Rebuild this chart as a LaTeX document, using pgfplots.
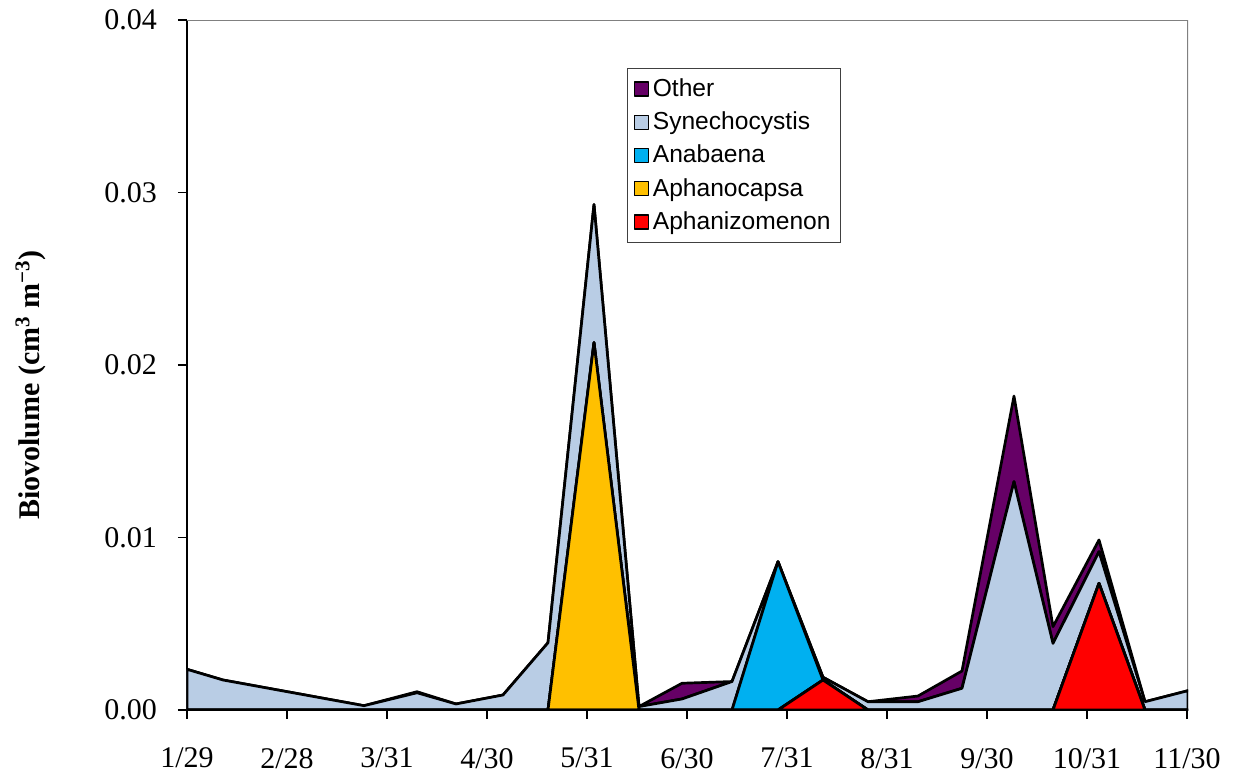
\documentclass[border=0pt]{standalone}
\usepackage{fontspec}
\setmainfont{Liberation Serif}
\setsansfont{Liberation Sans}
\usepackage{pgfplots}
\usepackage{pgfplotstable}
\pgfplotsset{compat=1.18}
\definecolor{cOther}{HTML}{660066}
\definecolor{cSyn}{HTML}{B9CDE5}
\definecolor{cAna}{HTML}{00B0F0}
\definecolor{cAphc}{HTML}{FFC000}
\definecolor{cAphz}{HTML}{FF0000}
\pgfplotstableread{
x    aphz     aphc    anab    syn      oth
187  0        0       0       0.00236  0
223  0        0       0       0.00174  0
364  0        0       0       0.00025  0
417  0        0       0       0.00100  0.00006
456  0        0       0       0.00035  0
503  0        0       0       0.00087  0
548  0        0       0       0.00390  0
594  0        0.0213  0       0.00800  0
639  0        0       0       0.00020  0
682  0        0       0       0.00064  0.00091
732  0        0       0       0.00165  0
778  0        0       0.0086  0        0
823  0.00174  0       0       0.00016  0
868  0        0       0       0.00048  0
918  0        0       0       0.00048  0.00033
962  0        0       0       0.00126  0.00100
1014 0        0       0       0.01324  0.00496
1053 0        0       0       0.00386  0.00097
1099 0.00734  0       0       0.00184  0.00068
1145 0        0       0       0.00048  0
1188 0        0       0       0.00112  0
}\datatable
\begin{document}
\begin{tikzpicture}
\begin{axis}[
  at={(0,0)}, anchor=south west,
  scale only axis, width=500.5pt, height=345pt,
  xmin=187, xmax=1188, ymin=0, ymax=0.04,
  axis x line*=bottom, axis y line*=left,
  axis line style={black, line width=1.1pt},
  xtick={187,287,387,487,587,687,787,887,987,1087,1187},
  xticklabels={1/29,2/28,3/31,4/30,5/31,6/30,7/31,8/31,9/30,10/31,11/30},
  ytick={0,0.01,0.02,0.03,0.04},
  yticklabel style={xshift=-7pt, /pgf/number format/.cd, fixed, fixed zerofill, precision=2, assume math mode=true},
  xticklabel style={yshift=-11pt},
  scaled y ticks=false,
  ticklabel style={font=\fontsize{15}{18}\selectfont},
  tick align=outside, major tick length=4.5pt,
  tick style={black, line width=0.8pt},
  stack plots=y,
  every axis plot/.append style={draw=black, line width=1.35pt, line join=round},
  ylabel={\textbf{Biovolume (cm\textsuperscript{3} m\textsuperscript{−3})}},
  ylabel style={at={(axis description cs:-0.156,0.471)}, anchor=center, font=\fontsize{15}{18}\selectfont},
  reverse legend,
  legend style={at={(axis description cs:0.4396,0.9304)}, anchor=north west,
    draw=black!75, line width=0.6pt, fill=white, font=\fontsize{12.3}{14}\sffamily,
    row sep=2.2pt, inner xsep=3pt, inner ysep=3pt},
  legend cell align=left,
  legend image code/.code={\draw[#1, line width=0.6pt] (0pt,-3.5pt) rectangle (7pt,3.5pt);},
]
\addplot[fill=cAphz] table[x=x, y=aphz] {\datatable} \closedcycle;
\addlegendentry{Aphanizomenon}
\addplot[fill=cAphc] table[x=x, y=aphc] {\datatable} \closedcycle;
\addlegendentry{Aphanocapsa}
\addplot[fill=cAna] table[x=x, y=anab] {\datatable} \closedcycle;
\addlegendentry{Anabaena}
\addplot[fill=cSyn] table[x=x, y=syn] {\datatable} \closedcycle;
\addlegendentry{Synechocystis}
\addplot[fill=cOther] table[x=x, y=oth] {\datatable} \closedcycle;
\addlegendentry{Other}
\draw[black!50, line width=1pt] (rel axis cs:0,1) -- (rel axis cs:1,1) -- (rel axis cs:1,0);
\end{axis}
\pgfresetboundingbox
\useasboundingbox (-93.5pt,-31.5pt) rectangle (525.5pt,355pt);
\end{tikzpicture}
\end{document}
